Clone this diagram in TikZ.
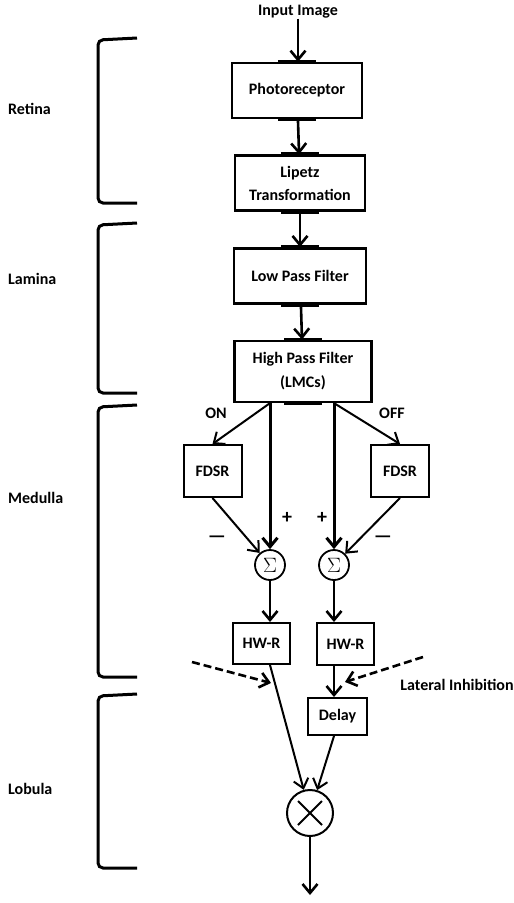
\documentclass[tikz,border=0pt]{standalone}
\usepackage{fontspec}
\setmainfont{Carlito}
\usetikzlibrary{arrows.meta,positioning}

\begin{document}
\begin{tikzpicture}[
    x=1pt,y=-1pt,
    node distance=35pt,
    font=\fontsize{16}{19}\selectfont\bfseries,
    port/.style={-,line width=4pt},
    box/.style={draw,line width=2.6pt,minimum width=130pt,minimum height=55pt,align=center,
      append after command={([xshift=-19pt]\tikzlastnode.north) edge[port] ([xshift=19pt]\tikzlastnode.north)
        ([xshift=-19pt]\tikzlastnode.south) edge[port] ([xshift=19pt]\tikzlastnode.south)}},
    sbox/.style={draw,line width=2pt,minimum width=58pt,minimum height=52pt},
    sumnode/.style={circle,draw,line width=1.8pt,minimum size=30pt,inner sep=0pt,font=\fontsize{21}{21}\selectfont},
    prodnode/.style={circle,draw,line width=2pt,minimum size=46pt,inner sep=0pt,
      path picture={\draw[line width=2pt]
        ([shift={(-12pt,-12pt)}]path picture bounding box.center) -- ([shift={(12pt,12pt)}]path picture bounding box.center)
        ([shift={(-12pt,12pt)}]path picture bounding box.center) -- ([shift={(12pt,-12pt)}]path picture bounding box.center);}},
    arr/.style={-{Straight Barb[length=9pt,width=15pt]},line width=2.6pt},
    darr/.style={arr,line width=2pt},
    inhib/.style={arr,line width=2.6pt,dash pattern=on 8pt off 4pt},
    brace/.style={line width=3pt,rounded corners=5pt},
    lbl/.style={inner sep=0pt},
    sign/.style={inner sep=0pt,font=\fontsize{20}{20}\selectfont\bfseries}
]
\useasboundingbox (0,0) rectangle (514,903);

\node[lbl] (input) at (298,12) {Input Image};
\node[box] (photo) at (297,90.5) {Photoreceptor};
\node[box,below=of photo,xshift=3pt,font=\fontsize{16}{23}\selectfont\bfseries] (lipetz) {Lipetz\\Transformation};
\node[box,below=of lipetz,minimum width=132pt] (lpf) {Low Pass Filter};
\node[box,below=of lpf,xshift=3pt,minimum width=137pt,minimum height=61pt,font=\fontsize{16}{24}\selectfont\bfseries] (hpf) {High Pass Filter\\(LMCs)};

\draw[arr] (input) -- (input |- photo.north);
\draw[arr] (photo) -- (lipetz);
\draw[arr] (lipetz) -- (lpf);
\draw[arr] (lpf) -- (hpf);

\node[sbox] (fdsrL) at (212.5,471) {FDSR};
\node[sbox] (fdsrR) at (400,471) {FDSR};
\node[sumnode] (sumL) at (270,565) {$\Sigma$};
\node[sumnode] (sumR) at (334,565) {$\Sigma$};

\draw[arr,line width=3pt] (hpf.south -| sumL) -- (sumL);
\draw[arr,line width=3pt] (hpf.south -| sumR) -- (sumR);
\draw[darr] (hpf.south -| sumL) -- (fdsrL.north);
\draw[darr] (hpf.south -| sumR) -- (fdsrR.north);
\draw[darr] (fdsrL.south) -- (sumL);
\draw[darr] (fdsrR.south) -- (sumR);

\node[lbl] at (216,413) {ON};
\node[lbl] at (392,413) {OFF};
\node[sign] at (287,518) {+};
\node[sign] at (322,518) {+};
\node[sign] at (217,539) {—};
\node[sign] at (383,539) {—};

\node[sbox,minimum width=57pt,minimum height=41pt] (hwrL) at (261.5,643.5) {HW-R};
\node[sbox,minimum width=57pt,minimum height=42pt] (hwrR) at (345.5,644) {HW-R};
\node[sbox,minimum width=59pt,minimum height=37pt] (delay) at (337.5,716.5) {Delay};
\node[prodnode] (prod) at (310,813) {};

\draw[arr] (sumL) -- (sumL |- hwrL.north);
\draw[arr] (sumR) -- (sumR |- hwrR.north);
\draw[arr] (hwrR.south -| sumR) -- (delay.north -| sumR);
\draw[darr] (hwrL.south -| sumL) -- (prod);
\draw[darr] (delay.south -| sumR) -- (prod);

\coordinate (liA) at (192,662);
\coordinate (liB) at (271,683);
\coordinate (liC) at (423,657);
\coordinate (liD) at (345,682);
\draw[inhib] (liA) -- (liB);
\draw[inhib] (liC) -- (liD);
\node[lbl] at (457,685) {Lateral Inhibition};

\coordinate (out) at (310,895);
\draw[arr] (prod) -- (out);

\foreach \ytop/\ybot in {38/203,223/393,405/677,694/868}
  \draw[brace] (137,\ytop) -- (98,\ytop+2) -- (98,\ybot) -- (137,\ybot);

\node[lbl,anchor=west] at (8,109) {Retina};
\node[lbl,anchor=west] at (8,279) {Lamina};
\node[lbl,anchor=west] at (8,498) {Medulla};
\node[lbl,anchor=west] at (8,789) {Lobula};
\end{tikzpicture}
\end{document}
